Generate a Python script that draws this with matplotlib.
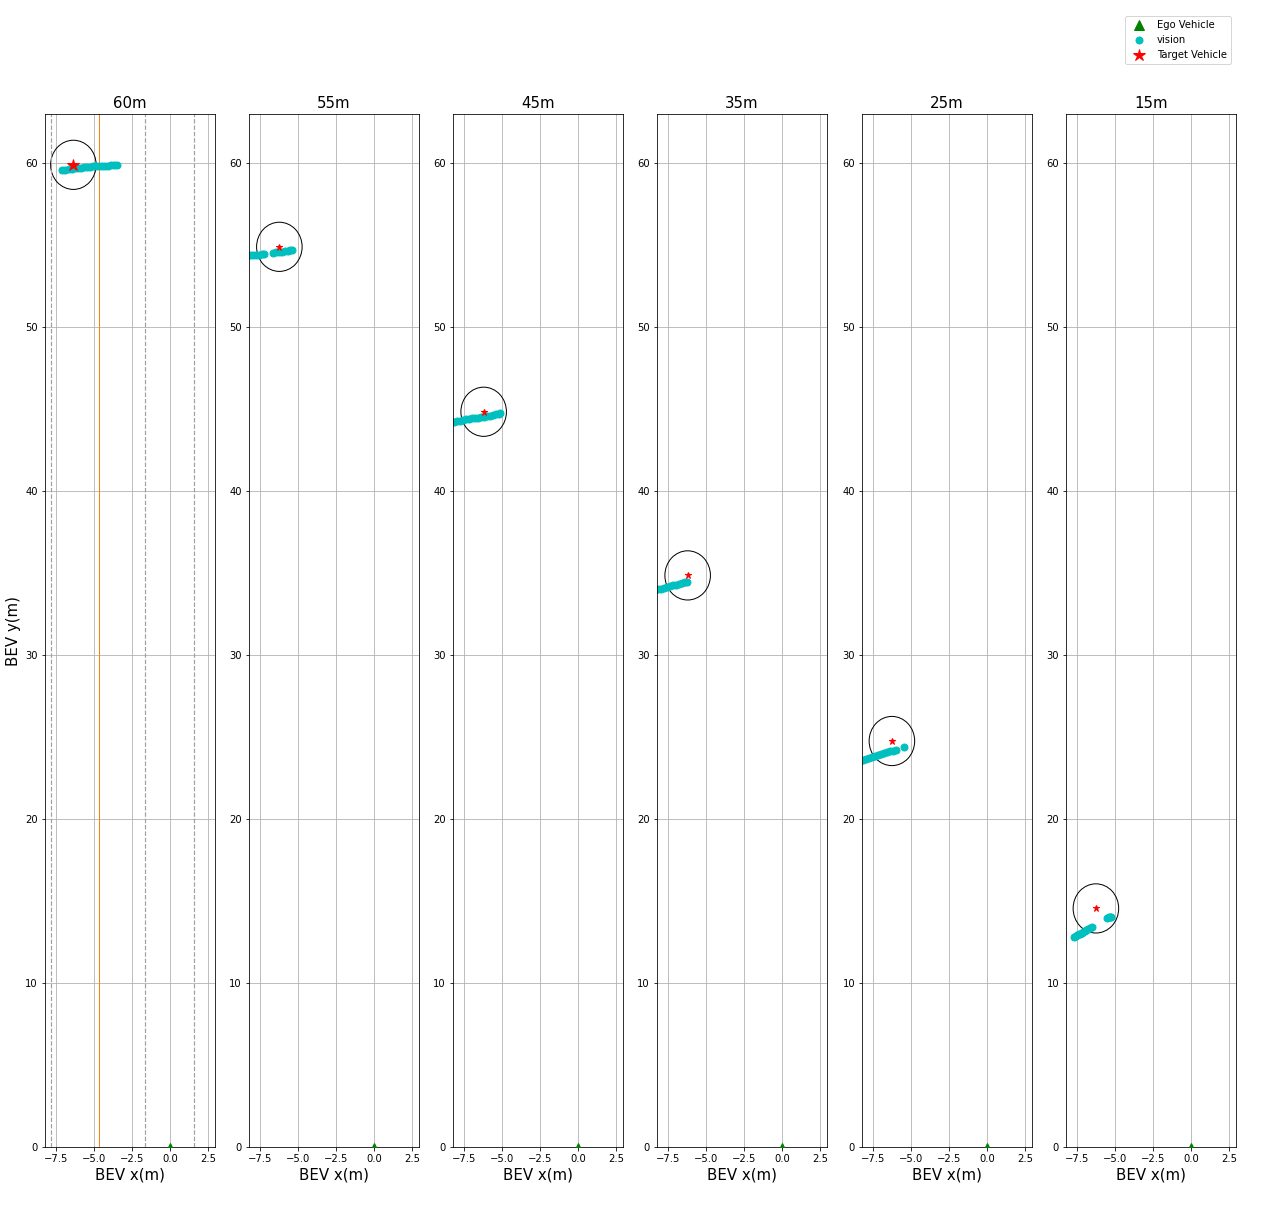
import numpy as np
import matplotlib.pyplot as plt
from matplotlib.patches import Circle
from matplotlib.lines import Line2D

# panel titles (target distance)
titles = ["60m", "55m", "45m", "35m", "25m", "15m"]

# target vehicle position per panel
target_x = [-6.38, -6.25, -6.23, -6.23, -6.28, -6.28]
target_y = [59.9, 54.9, 44.84, 34.86, 24.76, 14.55]

# vision detections per panel
vision_x = [
    [-7.1, -6.9, -6.7, -6.5, -6.3, -6.1, -5.9, -5.7, -5.5, -5.3, -5.1, -4.9,
     -4.7, -4.5, -4.3, -4.1, -3.9, -3.7, -3.5],
    [-8.6, -8.4, -8.2, -8.0, -7.8, -7.6, -7.4, -7.25, -6.65, -6.5, -6.3, -6.1,
     -5.9, -5.7, -5.55, -5.45],
    [-8.6, -8.4, -8.2, -8.0, -7.8, -7.6, -7.4, -7.2, -7.0, -6.8, -6.6, -6.4,
     -6.2, -6.0, -5.8, -5.6, -5.4, -5.2, -5.13],
    [-8.6, -8.4, -8.2, -8.0, -7.8, -7.6, -7.4, -7.2, -7.0, -6.8, -6.6, -6.4,
     -6.27],
    [-8.6, -8.4, -8.2, -8.0, -7.8, -7.6, -7.4, -7.2, -7.0, -6.8, -6.6, -6.4,
     -6.2, -6.0, -5.5],
    [-7.72, -7.6, -7.5, -7.4, -7.3, -7.2, -7.1, -7.0, -6.9, -6.8, -6.7, -6.57,
     -5.55, -5.45, -5.35, -5.3],
]
vision_y = [
    [59.56, 59.6, 59.63, 59.66, 59.69, 59.71, 59.73, 59.75, 59.77, 59.79, 59.8,
     59.81, 59.82, 59.83, 59.84, 59.85, 59.87, 59.89, 59.91],
    [54.35, 54.37, 54.39, 54.4, 54.42, 54.43, 54.44, 54.46, 54.55, 54.57, 54.59,
     54.61, 54.63, 54.66, 54.68, 54.7],
    [44.16, 44.2, 44.23, 44.27, 44.3, 44.33, 44.37, 44.4, 44.43, 44.46, 44.49,
     44.52, 44.55, 44.58, 44.61, 44.65, 44.68, 44.72, 44.75],
    [33.9, 33.96, 34.01, 34.06, 34.1, 34.15, 34.2, 34.25, 34.29, 34.34, 34.38,
     34.43, 34.47],
    [23.48, 23.54, 23.6, 23.66, 23.72, 23.78, 23.84, 23.9, 23.96, 24.02, 24.08,
     24.13, 24.17, 24.22, 24.4],
    [12.82, 12.87, 12.92, 12.97, 13.02, 13.07, 13.12, 13.17, 13.22, 13.28, 13.33,
     13.4, 13.98, 14.0, 14.0, 14.0],
]

# lane markings and reference line (first panel only)
lane_lines = [-7.88, -1.64, 1.58]
ref_line = -4.67

W, H = 1269, 1213
fig = plt.figure(figsize=(W / 72, H / 72), dpi=72)

lefts = [45, 249, 453, 657, 862, 1066]
for i, title in enumerate(titles):
    ax = fig.add_axes([lefts[i] / W, (H - 1147) / H, 170 / W, 1033 / H])
    ax.grid(True)
    ax.set_axisbelow(True)
    if i == 0:
        for lx in lane_lines:
            ax.axvline(lx, color='#a0a0a0', linestyle='--', linewidth=1.2)
        ax.axvline(ref_line, color='#ff7f0e', linewidth=1.0)
    ax.plot(vision_x[i], vision_y[i], 'o', color='c', markersize=7, linestyle='None')
    ax.plot(target_x[i], target_y[i], '*', color='r',
            markersize=13 if i == 0 else 7, linestyle='None')
    ax.add_patch(Circle((target_x[i], target_y[i]), 1.5, fill=False,
                        edgecolor='k', linewidth=1))
    ax.plot(0, 0, '^', color='g', markersize=8, zorder=4)
    ax.set_xlim(-8.25, 2.95)
    ax.set_ylim(0, 63)
    ax.set_yticks(np.arange(0, 61, 10))
    ax.set_title(title, fontsize=15)
    ax.set_xlabel("BEV x(m)", fontsize=15)
    if i == 0:
        ax.set_ylabel("BEV y(m)", fontsize=15)

handles = [
    Line2D([], [], marker='^', color='g', linestyle='None', markersize=10),
    Line2D([], [], marker='o', color='c', linestyle='None', markersize=7),
    Line2D([], [], marker='*', color='r', linestyle='None', markersize=12),
]
fig.legend(handles, ["Ego Vehicle", "vision", "Target Vehicle"],
           loc='upper right', bbox_to_anchor=(1231 / W, 1 - 16 / H),
           borderaxespad=0)

fig.savefig("out.png", dpi=72)
